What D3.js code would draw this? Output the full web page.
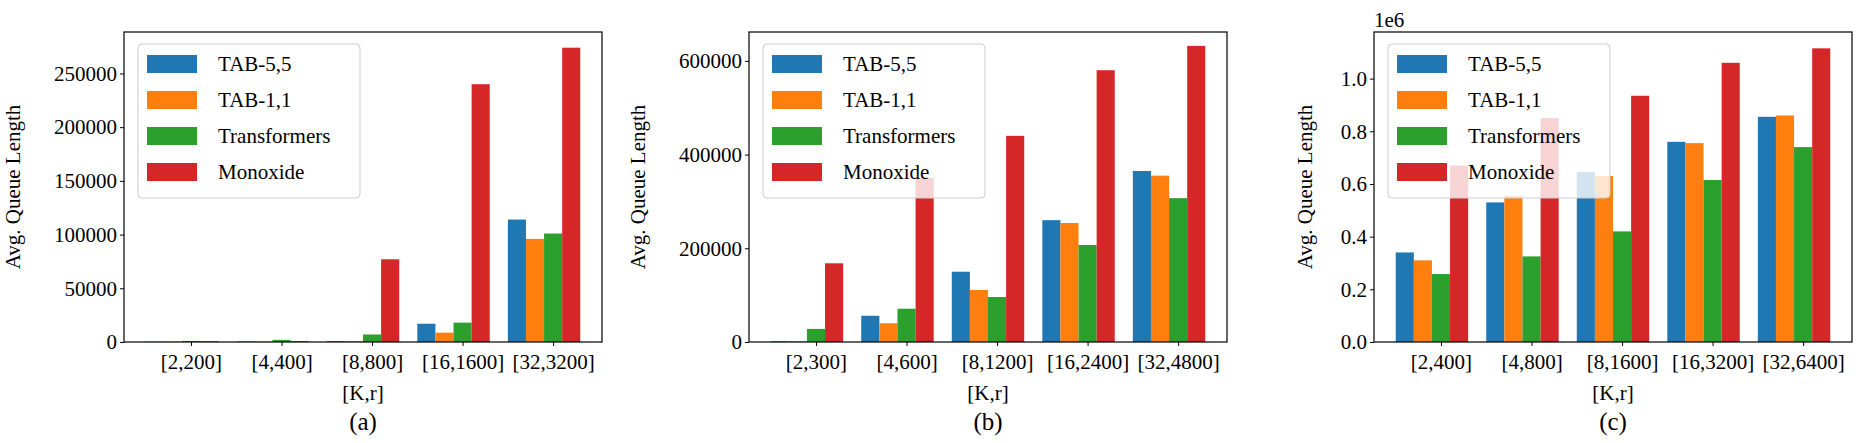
<!DOCTYPE html>
<html><head><meta charset="utf-8">
<script src="https://cdn.jsdelivr.net/npm/d3@7"></script>
<style>body{margin:0;background:#fff}text{font-family:"Liberation Serif","DejaVu Serif",serif}</style>
</head><body><svg id="chart" width="1861" height="443"></svg>
<script>
const seriesNames = ["TAB-5,5", "TAB-1,1", "Transformers", "Monoxide"];
const colors = ["#1f77b4", "#ff7f0e", "#2ca02c", "#d62728"];

const catsA = ["[2,200]", "[4,400]", "[8,800]", "[16,1600]", "[32,3200]"];
const tab55A = [300, 500, 800, 17000, 114000];
const tab11A = [300, 400, 700, 8700, 96000];
const transA = [1000, 2000, 7000, 18000, 101000];
const monoA = [700, 800, 77000, 240000, 274000];
const ticksA = [0, 50000, 100000, 150000, 200000, 250000];

const catsB = ["[2,300]", "[4,600]", "[8,1200]", "[16,2400]", "[32,4800]"];
const tab55B = [1500, 56000, 150000, 260000, 365000];
const tab11B = [1500, 40000, 111000, 254000, 355000];
const transB = [28000, 71000, 96000, 207000, 307000];
const monoB = [168000, 350000, 440000, 580000, 632000];
const ticksB = [0, 200000, 400000, 600000];

const catsC = ["[2,400]", "[4,800]", "[8,1600]", "[16,3200]", "[32,6400]"];
const tab55C = [0.34, 0.53, 0.645, 0.76, 0.855];
const tab11C = [0.31, 0.555, 0.63, 0.755, 0.86];
const transC = [0.258, 0.325, 0.42, 0.615, 0.74];
const monoC = [0.67, 0.85, 0.935, 1.06, 1.115];
const ticksC = [0, 0.2, 0.4, 0.6, 0.8, 1.0];

const svg = d3.select("#chart");
const plotTop = 32, plotBottom = 342, pw = 478;

function panel(left, cats, series, ymax, ticks, fmt, label, exp) {
  const g = svg.append("g");
  const x = d3.scaleLinear().domain([-0.74, 4.54]).range([left, left + pw]);
  const y = d3.scaleLinear().domain([0, ymax]).range([plotBottom, plotTop]);

  series.forEach((vals, si) => {
    g.selectAll(null).data(vals).enter().append("rect")
      .attr("x", (d, i) => x(i - 0.5 + si * 0.2))
      .attr("width", x(0.2) - x(0))
      .attr("y", d => y(d))
      .attr("height", d => plotBottom - y(d))
      .attr("fill", colors[si]);
  });

  const xa = g.append("g").attr("transform", `translate(0,${plotBottom})`)
    .call(d3.axisBottom(x).tickValues(d3.range(5)).tickFormat(i => cats[i]).tickSizeOuter(0).tickSize(4));
  xa.selectAll("text").attr("font-size", 21).attr("dy", "0.95em").attr("fill", "#000");
  const ya = g.append("g").attr("transform", `translate(${left},0)`)
    .call(d3.axisLeft(y).tickValues(ticks).tickFormat(fmt).tickSizeOuter(0).tickSize(4));
  ya.selectAll("text").attr("font-size", 21).attr("fill", "#000");
  g.selectAll(".domain").remove();
  g.append("rect").attr("x", left).attr("y", plotTop).attr("width", pw).attr("height", plotBottom - plotTop)
    .attr("fill", "none").attr("stroke", "#000").attr("stroke-width", 1.2);

  const labelOff = exp ? 62 : 104;
  g.append("text").attr("transform", `translate(${left - labelOff},${(plotTop + plotBottom) / 2}) rotate(-90)`)
    .attr("text-anchor", "middle").attr("font-size", 21).text("Avg. Queue Length");
  g.append("text").attr("x", left + pw / 2).attr("y", 400).attr("text-anchor", "middle")
    .attr("font-size", 21).text("[K,r]");
  g.append("text").attr("x", left + pw / 2).attr("y", 430).attr("text-anchor", "middle")
    .attr("font-size", 25).text(label);
  if (exp) g.append("text").attr("x", left).attr("y", 27).attr("font-size", 21).text(exp);

  const lg = g.append("g").attr("transform", `translate(${left + 14},44)`);
  lg.append("rect").attr("width", 222).attr("height", 154).attr("rx", 4)
    .attr("fill", "#fff").attr("fill-opacity", 0.8).attr("stroke", "#ccc");
  seriesNames.forEach((n, i) => {
    lg.append("rect").attr("x", 9).attr("y", 11 + i * 36).attr("width", 50).attr("height", 18).attr("fill", colors[i]);
    lg.append("text").attr("x", 80).attr("y", 27 + i * 36).attr("font-size", 21).text(n);
  });
}

panel(124, catsA, [tab55A, tab11A, transA, monoA], 288600, ticksA, d3.format("d"), "(a)");
panel(749, catsB, [tab55B, tab11B, transB, monoB], 661600, ticksB, d3.format("d"), "(b)");
panel(1374, catsC, [tab55C, tab11C, transC, monoC], 1.177, ticksC, d3.format(".1f"), "(c)", "1e6");
</script></body></html>
